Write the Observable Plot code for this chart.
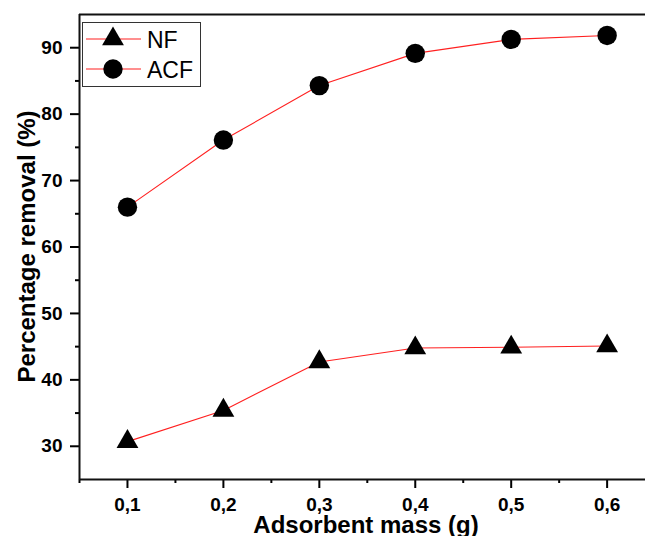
<!DOCTYPE html>
<html>
<head>
<meta charset="utf-8">
<script src="https://cdn.jsdelivr.net/npm/d3@7"></script>
<script src="https://cdn.jsdelivr.net/npm/@observablehq/plot@0.6"></script>
<style>
  html, body { margin: 0; padding: 0; background: #fff; }
  #chart { width: 645px; height: 536px; overflow: hidden; }
</style>
</head>
<body>
<div id="chart"></div>
<script>
// ---- data ----
const mass = [0.1, 0.2, 0.3, 0.4, 0.5, 0.6];
const nfRemoval = [30.7, 35.4, 42.7, 44.8, 44.9, 45.1];
const acfRemoval = [66.0, 76.1, 84.3, 89.15, 91.25, 91.85];
const seriesNames = ["NF", "ACF"];
const xMajorTicks = [0.1, 0.2, 0.3, 0.4, 0.5, 0.6];
const xMinorTicks = [0.05, 0.15, 0.25, 0.35, 0.45, 0.55];
const yMajorTicks = [30, 40, 50, 60, 70, 80, 90];
const yMinorTicks = [35, 45, 55, 65, 75, 85];
const xDomain = [0.05, 0.64];
const yDomain = [25, 95];
const xTitle = "Adsorbent mass (g)";
const yTitle = "Percentage removal (%)";

const nfData = mass.map((m, i) => ({mass: m, value: nfRemoval[i], series: seriesNames[0]}));
const acfData = mass.map((m, i) => ({mass: m, value: acfRemoval[i], series: seriesNames[1]}));

const FONT = "'Liberation Sans', Arial, Helvetica, sans-serif";
const fmt = d => d.toFixed(1).replace(".", ",");

const chart = Plot.plot({
  width: 645,
  height: 536,
  marginLeft: 79,
  marginRight: 0,
  marginTop: 14,
  marginBottom: 57,
  style: {fontFamily: FONT, color: "#000", background: "#fff", overflow: "visible"},
  x: {domain: xDomain},
  y: {domain: yDomain},
  marks: [
    Plot.axisX({ticks: xMajorTicks, tickFormat: fmt, tickSize: 9, tickPadding: 9, fontSize: 19, fontWeight: "bold", stroke: "#000", strokeWidth: 2, strokeOpacity: 1, fill: "#000", label: null}),
    Plot.axisX({ticks: xMinorTicks, tickFormat: () => "", tickSize: 4, stroke: "#000", strokeWidth: 2, strokeOpacity: 1, label: null}),
    Plot.axisY({ticks: yMajorTicks, tickSize: 9, tickPadding: 8, fontSize: 19, fontWeight: "bold", stroke: "#000", strokeWidth: 2, strokeOpacity: 1, fill: "#000", label: null}),
    Plot.axisY({ticks: yMinorTicks, tickFormat: () => "", tickSize: 4, stroke: "#000", strokeWidth: 2, strokeOpacity: 1, label: null}),
    Plot.ruleY([yDomain[0], yDomain[1]], {stroke: "#111", strokeWidth: 2}),
    Plot.ruleX([xDomain[0]], {stroke: "#111", strokeWidth: 2}),
    Plot.line(nfData, {x: "mass", y: "value", stroke: "#ff2020", strokeWidth: 1.1}),
    Plot.line(acfData, {x: "mass", y: "value", stroke: "#ff2020", strokeWidth: 1.1}),
    Plot.dot(nfData, {x: "mass", y: "value", symbol: "triangle", r: 8.1, fill: "#000", stroke: "none"}),
    Plot.dot(acfData, {x: "mass", y: "value", symbol: "circle", r: 9.7, fill: "#000", stroke: "none"})
  ]
});

document.getElementById("chart").appendChild(chart);

const svg = d3.select(chart);

// enforce axis styling
svg.selectAll("g[aria-label='x-axis tick'], g[aria-label='y-axis tick']")
  .attr("stroke", "#000").attr("stroke-width", 2).attr("stroke-opacity", 1);
svg.selectAll("g[aria-label='x-axis tick label'], g[aria-label='y-axis tick label']")
  .attr("font-size", 19).attr("font-weight", "bold").attr("fill", "#000")
  .style("font-size", "19px").style("font-weight", "bold")
  .style("font-variant", "normal");

// ---- titles and legend ----
const xr = chart.scale("x").range;
const yr = chart.scale("y").range;
const plotLeft = Math.min(...xr), plotRight = Math.max(...xr);
const plotTop = Math.min(...yr), plotBottom = Math.max(...yr);

svg.append("text")
  .attr("x", (plotLeft + plotRight) / 2 + 4)
  .attr("y", plotBottom + 54)
  .attr("text-anchor", "middle")
  .attr("font-family", FONT)
  .attr("font-size", 24)
  .attr("font-weight", "bold")
  .attr("fill", "#000")
  .text(xTitle);

svg.append("text")
  .attr("transform", `translate(${plotLeft - 44},${(plotTop + plotBottom) / 2}) rotate(-90)`)
  .attr("text-anchor", "middle")
  .attr("font-family", FONT)
  .attr("font-size", 24)
  .attr("font-weight", "bold")
  .attr("fill", "#000")
  .text(yTitle);

const lg = svg.append("g").attr("transform", `translate(${plotLeft + 3},${plotTop + 8})`);
lg.append("rect")
  .attr("x", 0.5).attr("y", 0.5)
  .attr("width", 118).attr("height", 64)
  .attr("fill", "#fff").attr("stroke", "#333").attr("stroke-width", 1);
const legendItems = [
  {name: seriesNames[0], symbol: d3.symbolTriangle, r: 8.1},
  {name: seriesNames[1], symbol: d3.symbolCircle, r: 9.7}
];
legendItems.forEach((it, i) => {
  const cy = 17 + i * 30;
  lg.append("line")
    .attr("x1", 4).attr("x2", 59).attr("y1", cy).attr("y2", cy)
    .attr("stroke", "#ff2020").attr("stroke-width", 1.1);
  lg.append("path")
    .attr("transform", `translate(31,${cy})`)
    .attr("d", d3.symbol(it.symbol, Math.PI * it.r * it.r)())
    .attr("fill", "#000");
  lg.append("text")
    .attr("x", 65).attr("y", cy + 8.5)
    .attr("text-anchor", "start")
    .attr("font-family", FONT)
    .attr("font-size", 23)
    .attr("fill", "#000")
    .text(it.name);
});
</script>
</body>
</html>
